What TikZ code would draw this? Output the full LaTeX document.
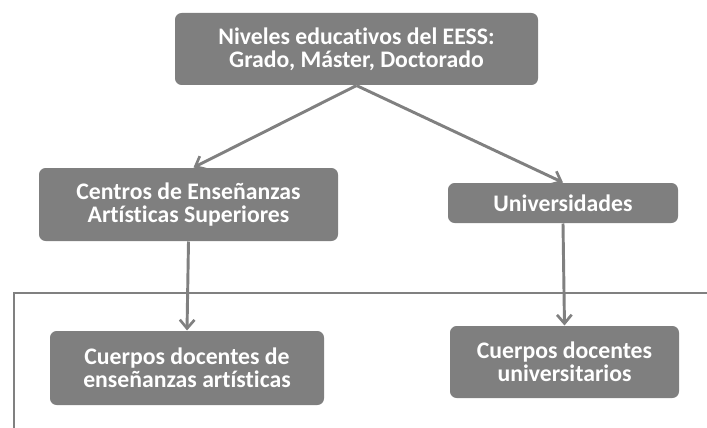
\documentclass[tikz,border=0pt]{standalone}
\usepackage{fontspec}
\setmainfont[Ligatures=NoCommon]{Carlito}
\usetikzlibrary{arrows.meta}
\definecolor{boxgray}{RGB}{127,127,127}
\definecolor{linegray}{RGB}{128,128,128}
\tikzset{every picture/.style={line width=0.75pt}}
\tikzset{
  nivelbox/.style={draw=none, fill=boxgray, rounded corners=5pt, text=white, align=center,
    font=\fontsize{17.8}{17.5}\selectfont\bfseries, inner sep=0pt},
  flecha/.style={draw=linegray, line width=2.2pt, -{Straight Barb[length=6.5pt,width=11pt,line width=2pt]}}
}

\begin{document}
\begin{tikzpicture}[x=0.75pt,y=0.75pt,yscale=-1,xscale=1]
\useasboundingbox (0,0) rectangle (707,428);

% Text Node
\node [nivelbox, minimum width=272.25pt, minimum height=54pt] (niveles) at (356.5,49) {Niveles educativos del EESS:\\Grado, Máster, Doctorado};
% Text Node
\node [nivelbox, minimum width=224.25pt, minimum height=54.75pt] (centros) at (188.5,204.5) {Centros de Enseñanzas\\Artísticas Superiores};
% Text Node
\node [nivelbox, minimum width=172.5pt, minimum height=30pt] (univ) at (563,203) {Universidades};
% Text Node
\node [nivelbox, minimum width=205.5pt, minimum height=55.5pt] (docentesA) at (187,368) {Cuerpos docentes de\\enseñanzas artísticas};
% Text Node
\node [nivelbox, minimum width=171.75pt, minimum height=54pt] (docentesU) at (564.5,362) {Cuerpos docentes\\universitarios};

%Straight Lines
\draw [linegray, line width=2pt] (14,428) -- (14,293) -- (707,293);

%Straight Lines
\draw [flecha] (niveles.south) -- ([xshift=3.75pt]centros.north);
\draw [flecha] (niveles.south) -- (univ.north);
\draw [flecha] (centros.south) -- (docentesA.north);
\draw [flecha] (univ.south) -- (docentesU.north);

\end{tikzpicture}
\end{document}
